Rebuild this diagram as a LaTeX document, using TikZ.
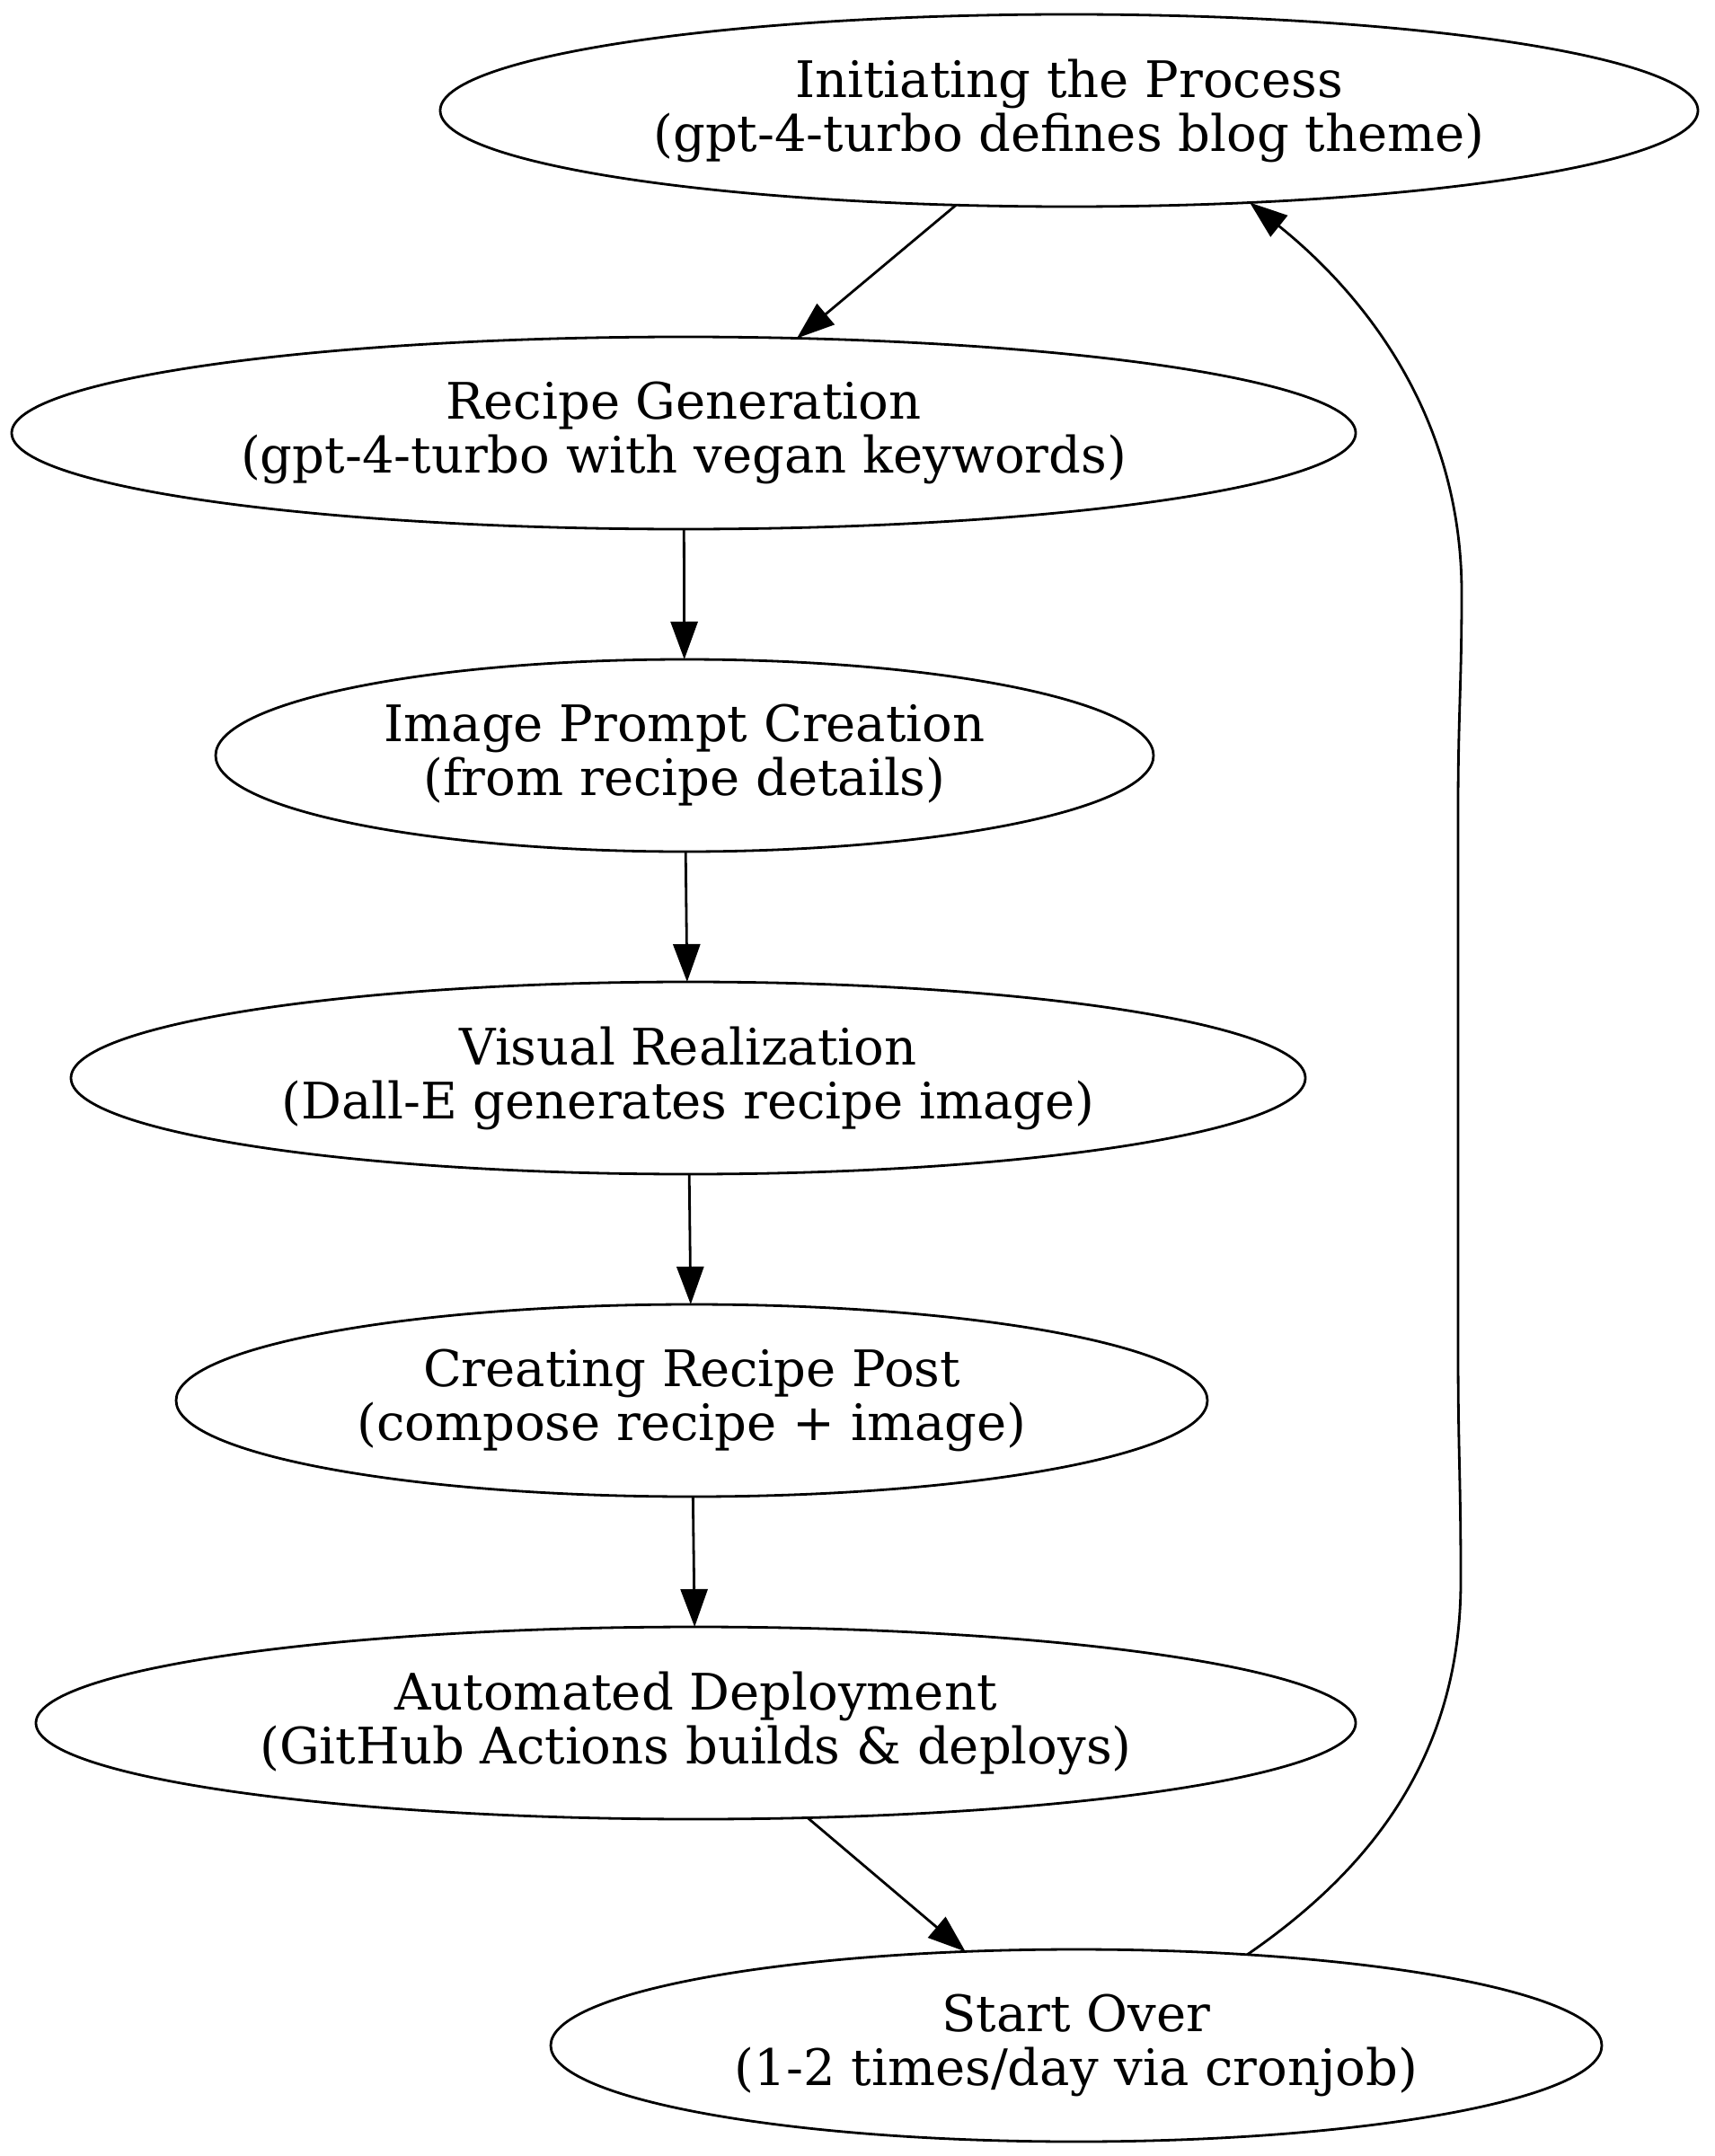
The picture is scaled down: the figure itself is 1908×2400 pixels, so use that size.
\documentclass[tikz,border=0pt]{standalone}
\usepackage{fontspec}
\setmainfont{DejaVu Serif}
\usetikzlibrary{arrows.meta,shapes.geometric}
\begin{document}
\begin{tikzpicture}[x=1pt,y=-1pt,
  gnode/.style={draw, ellipse, line width=2.8pt, inner sep=0pt, outer sep=0pt,
    align=center, font=\fontsize{56}{60}\selectfont},
  edge/.style={line width=2.8pt, -{Triangle[length=42pt,width=30pt]}}]
\fill[white] (0,0) rectangle (1908,2400);
\useasboundingbox (0,0) rectangle (1908,2400);
\node[gnode, minimum width=1400pt, minimum height=214pt] (n1) at (1190,123)
  {Initiating the Process\\(gpt-4-turbo defines blog theme)};
\node[gnode, minimum width=1496pt, minimum height=214pt] (n2) at (761,482)
  {Recipe Generation\\(gpt-4-turbo with vegan keywords)};
\node[gnode, minimum width=1044pt, minimum height=214pt] (n3) at (762,841)
  {Image Prompt Creation\\(from recipe details)};
\node[gnode, minimum width=1374pt, minimum height=214pt] (n4) at (766,1200)
  {Visual Realization\\(Dall-E generates recipe image)};
\node[gnode, minimum width=1148pt, minimum height=214pt] (n5) at (770,1559)
  {Creating Recipe Post\\(compose recipe + image)};
\node[gnode, minimum width=1469pt, minimum height=214pt] (n6) at (774.5,1918)
  {Automated Deployment\\(GitHub Actions builds \& deploys)};
\node[gnode, minimum width=1170pt, minimum height=214pt] (n7) at (1198,2277)
  {Start Over\\(1-2 times/day via cronjob)};
\draw[edge] (n1) -- (n2);
\draw[edge] (n2) -- (n3);
\draw[edge] (n3) -- (n4);
\draw[edge] (n4) -- (n5);
\draw[edge] (n5) -- (n6);
\draw[edge] (n6) -- (n7);
\draw[edge] (n7.28) .. controls (1520,2085) and (1626,1960) .. (1626,1760)
  .. controls (1626,1640) and (1623,1620) .. (1623,1500)
  -- (1623,900)
  .. controls (1623,800) and (1627,760) .. (1627,660)
  .. controls (1627,460) and (1515,325) .. (n1.-27);
\end{tikzpicture}
\end{document}
